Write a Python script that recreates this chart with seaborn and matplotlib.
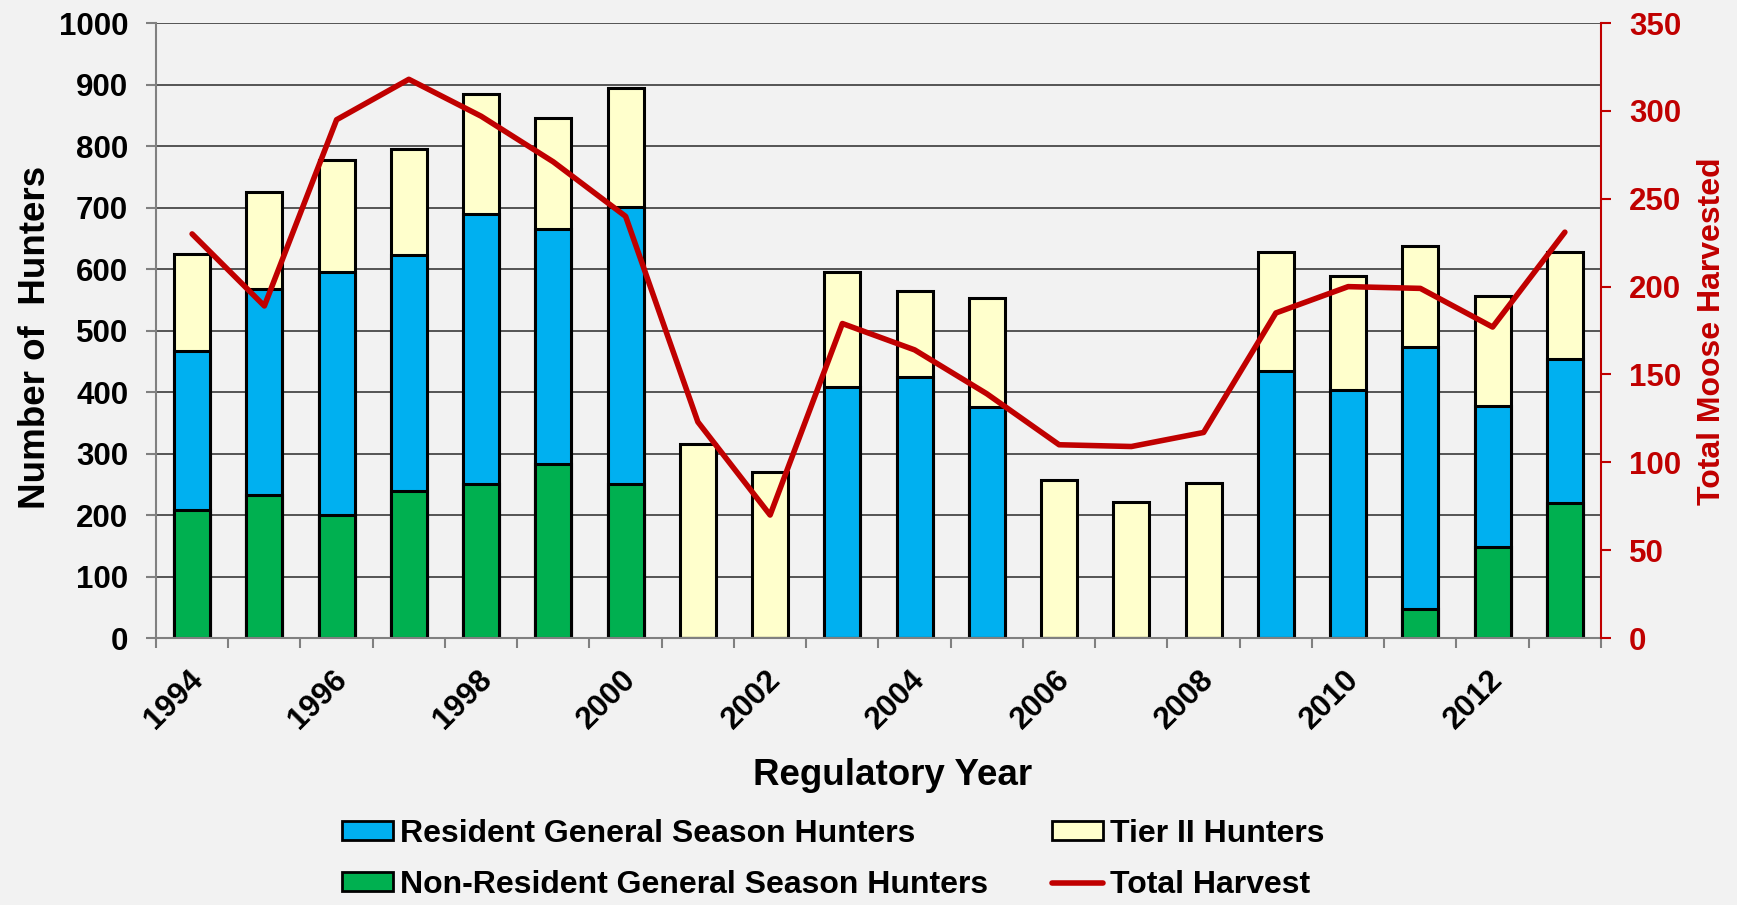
import numpy as np
import pandas as pd
import matplotlib
matplotlib.use("Agg")
import matplotlib.pyplot as plt
import matplotlib.transforms as mtransforms
import seaborn as sns
from matplotlib.patches import Patch
from matplotlib.lines import Line2D

# ---------------- data ----------------
years = list(range(1994, 2014))
nonresident = [208, 233, 200, 239, 251, 283, 251, 0, 0, 0, 0, 0, 0, 0, 0, 0, 0, 48, 148, 220]
resident = [258, 334, 395, 384, 438, 382, 450, 0, 0, 408, 425, 376, 0, 0, 0, 435, 403, 426, 229, 233]
tier2 = [159, 158, 183, 173, 195, 181, 193, 315, 270, 187, 139, 177, 257, 221, 252, 192, 185, 164, 179, 174]
harvest = [230, 189, 295, 318, 297, 271, 240, 123, 70, 179, 164, 139, 110, 109, 117, 185, 200, 199, 177, 231]
label_years = [str(y) if (y % 2 == 0) else "" for y in years]

# ---------------- style ----------------
BG = "#F2F2F2"
BLUE = "#00B0F0"
GREEN = "#00B050"
YELLOW = "#FFFFCC"
RED = "#C00000"

sns.set_theme(style="white")
plt.rcParams["font.family"] = ["Liberation Sans", "DejaVu Sans"]
plt.rcParams["font.weight"] = "bold"
plt.rcParams["text.color"] = "black"
plt.rcParams["axes.labelcolor"] = "black"
plt.rcParams["xtick.color"] = "black"
plt.rcParams["ytick.color"] = "black"

df = pd.DataFrame({"year": years, "nonres": nonresident, "res": resident, "tier2": tier2, "harvest": harvest})
df["lvl_green"] = df["nonres"]
df["lvl_blue"] = df["nonres"] + df["res"]
df["lvl_total"] = df["lvl_blue"] + df["tier2"]

fig = plt.figure(figsize=(17.37, 9.05), dpi=100, facecolor=BG)
ax = fig.add_axes([0.0898, 0.295, 0.8319, 0.6795])
ax.set_facecolor(BG)

bar_kw = dict(edgecolor="black", linewidth=2.2, width=0.5, saturation=1, ax=ax, errorbar=None)
sns.barplot(data=df, x="year", y="lvl_total", color=YELLOW, **bar_kw)
sns.barplot(data=df, x="year", y="lvl_blue", color=BLUE, **bar_kw)
sns.barplot(data=df, x="year", y="lvl_green", color=GREEN, **bar_kw)

ax.set_ylim(0, 1000)
ax.set_xlim(-0.5, len(years) - 0.5)
ax.set_yticks(np.arange(0, 1001, 100))
ax.yaxis.grid(True, color="#3a3a3a", linewidth=1.2)
ax.set_axisbelow(True)
for s in ["top", "right"]:
    ax.spines[s].set_visible(False)
ax.spines["left"].set_color("#808080")
ax.spines["bottom"].set_color("#808080")
ax.spines["left"].set_linewidth(1.5)
ax.spines["bottom"].set_linewidth(1.5)

# category-boundary tick marks, labels at category centres
ax.set_xticks(np.arange(-0.5, len(years), 1))
ax.set_xticklabels([])
ax.tick_params(axis="x", which="major", length=7, width=1.5, color="#808080", direction="out", bottom=True)
ax.set_xticks(np.arange(len(years)), minor=True)
ax.set_xticklabels(label_years, minor=True, rotation=45, ha="right", va="center",
                   rotation_mode="anchor", fontsize=22.5, fontweight="bold", color="black")
ax.tick_params(axis="x", which="minor", length=0, pad=27)
shift = mtransforms.ScaledTranslation(0.06, 0, fig.dpi_scale_trans)
for t in ax.get_xticklabels(minor=True):
    t.set_transform(t.get_transform() + shift)
ax.tick_params(axis="y", length=7, width=1.5, color="#808080", direction="out", left=True,
               labelsize=22.5, labelcolor="black", pad=13)
for t in ax.get_yticklabels():
    t.set_fontweight("bold")

ax.set_xlabel("Regulatory Year", fontsize=26.5, fontweight="bold", va="center")
ax.xaxis.set_label_coords(0.51, -0.2228)
ax.set_ylabel("Number of  Hunters", fontsize=26.5, fontweight="bold", va="center")
ax.yaxis.set_label_coords(-0.0835, 0.488)

# secondary axis
ax2 = ax.twinx()
sns.lineplot(x=np.arange(len(years)), y=harvest, color=RED, linewidth=4, ax=ax2)
ax2.set_ylim(0, 350)
ax2.set_yticks(np.arange(0, 351, 50))
for s in ["top", "left", "bottom"]:
    ax2.spines[s].set_visible(False)
ax2.spines["right"].set_color(RED)
ax2.spines["right"].set_linewidth(1.5)
ax2.tick_params(axis="y", length=7, width=1.5, color=RED, direction="out", right=True,
                labelsize=22.5, labelcolor=RED, pad=13)
for t in ax2.get_yticklabels():
    t.set_fontweight("bold")
ax2.set_ylabel("Total Moose Harvested", fontsize=23, fontweight="bold", color=RED, va="center")
ax2.yaxis.set_label_coords(1.0768, 0.499)
ax2.grid(False)

handles = [
    Patch(facecolor=BLUE, edgecolor="black", linewidth=2),
    Patch(facecolor=GREEN, edgecolor="black", linewidth=2),
    Patch(facecolor=YELLOW, edgecolor="black", linewidth=2),
    Line2D([0], [0], color=RED, linewidth=4),
]
labels = ["Resident General Season Hunters", "Non-Resident General Season Hunters",
          "Tier II Hunters", "Total Harvest"]
fig.legend(handles, labels, ncol=2, loc="upper left", bbox_to_anchor=(0.197, 0.095),
           frameon=False, prop={"size": 23, "weight": "bold"}, handlelength=1.6,
           handleheight=0.55, handletextpad=0.22, columnspacing=2.0, labelspacing=0.66,
           borderaxespad=0, borderpad=0)

fig.savefig("out.png", dpi=100, facecolor=BG)
